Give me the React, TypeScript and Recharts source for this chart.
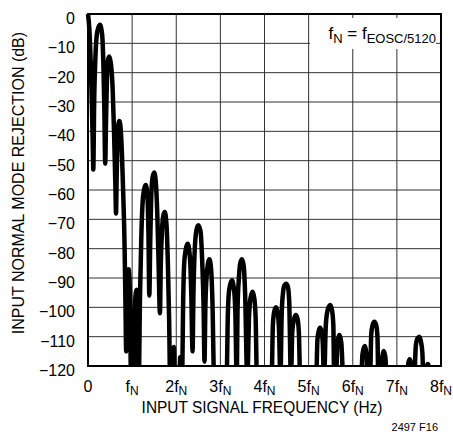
import { LineChart, Line, XAxis, YAxis, CartesianGrid, ReferenceArea } from "recharts";

const FONT = "'Liberation Sans', Arial, sans-serif";

// frequency in units of fN, rejection in dB (values below -120 fall off the plot)
const lobesToFn: [number, number][] = [
  [0, 0], [0.03, -5], [0.06, -16], [0.09, -32], [0.11, -46], [0.12, -53],
  [0.14, -30], [0.17, -14], [0.21, -6], [0.27, -3.7], [0.32, -7], [0.35, -18], [0.37, -32], [0.39, -51],
  [0.41, -35], [0.43, -22], [0.45, -16], [0.48, -14.5], [0.52, -17], [0.56, -26], [0.59, -40], [0.62, -58], [0.635, -68],
  [0.65, -55], [0.67, -42], [0.69, -37.5], [0.71, -36.5], [0.74, -39], [0.77, -48], [0.8, -62], [0.83, -80], [0.85, -100], [0.865, -115],
  [0.88, -100], [0.92, -87], [0.95, -95], [0.975, -125],
];

const lobesTo2Fn: [number, number][] = [
  [1.03, -125], [1.06, -100], [1.1, -94], [1.13, -100], [1.15, -125],
  [1.18, -95], [1.21, -75], [1.25, -62], [1.31, -58.3], [1.35, -63], [1.37, -75], [1.39, -96],
  [1.41, -78], [1.43, -64], [1.46, -56], [1.5, -54], [1.54, -58], [1.57, -68], [1.6, -85], [1.63, -102],
  [1.65, -85], [1.68, -73], [1.71, -68.5], [1.74, -67.5], [1.78, -72], [1.81, -85], [1.84, -105], [1.86, -125],
];

const lobesTo3Fn: [number, number][] = [
  [1.92, -125], [1.945, -113.5], [1.97, -125], [2.07, -125], [2.09, -117], [2.11, -125],
  [2.13, -125], [2.16, -95], [2.19, -83], [2.26, -78.3], [2.31, -83], [2.34, -95], [2.37, -115],
  [2.39, -95], [2.42, -80], [2.46, -73.5], [2.5, -72], [2.55, -74], [2.59, -85], [2.62, -100], [2.64, -118.5],
  [2.66, -100], [2.69, -89], [2.72, -85], [2.75, -83.6], [2.79, -87], [2.82, -98], [2.86, -125],
];

const lobesTo4Fn: [number, number][] = [
  [3.14, -125], [3.17, -102], [3.2, -94], [3.26, -90.8], [3.31, -94], [3.34, -102], [3.37, -125],
  [3.39, -100], [3.42, -90], [3.45, -85], [3.49, -83.6], [3.53, -86], [3.56, -95], [3.61, -125],
  [3.65, -103], [3.68, -97], [3.73, -94.7], [3.77, -97], [3.8, -104], [3.83, -125],
];

const lobesTo5Fn: [number, number][] = [
  [4.16, -125], [4.19, -106], [4.22, -101.5], [4.26, -100], [4.3, -102], [4.33, -108], [4.36, -125],
  [4.39, -102], [4.42, -95], [4.45, -92.5], [4.49, -92], [4.53, -93], [4.56, -98], [4.6, -125],
  [4.63, -108], [4.67, -104], [4.71, -102.6], [4.75, -104], [4.78, -109], [4.81, -125],
];

const lobesTo6Fn: [number, number][] = [
  [5.17, -125], [5.2, -111], [5.23, -108], [5.26, -107], [5.29, -108], [5.32, -112], [5.35, -125],
  [5.39, -106], [5.43, -101], [5.49, -99.2], [5.53, -101], [5.56, -106], [5.58, -125],
  [5.62, -125], [5.65, -113], [5.7, -109.4], [5.74, -112], [5.79, -125],
];

const lobesTo7Fn: [number, number][] = [
  [6.19, -125], [6.22, -116], [6.27, -113.2], [6.31, -116], [6.34, -125],
  [6.39, -125], [6.42, -109], [6.45, -106], [6.49, -104.9], [6.53, -106], [6.56, -110], [6.58, -125],
  [6.64, -125], [6.67, -117], [6.7, -114.9], [6.74, -117], [6.77, -125],
];

const lobesTo8Fn: [number, number][] = [
  [7.23, -125], [7.26, -119], [7.29, -117.7], [7.32, -119], [7.35, -125],
  [7.39, -125], [7.43, -113], [7.47, -110.5], [7.51, -110], [7.55, -112], [7.58, -116], [7.6, -125],
  [7.64, -125], [7.67, -120.5], [7.7, -119.3], [7.73, -120.5], [7.76, -125], [8, -125],
];

const xTicks = [0, 1, 2, 3, 4, 5, 6, 7, 8];
const xTickLabels = ["0", "f", "2f", "3f", "4f", "5f", "6f", "7f", "8f"];
const yTicks = [0, -10, -20, -30, -40, -50, -60, -70, -80, -90, -100, -110, -120];

const data = [
  ...lobesToFn, ...lobesTo2Fn, ...lobesTo3Fn, ...lobesTo4Fn,
  ...lobesTo5Fn, ...lobesTo6Fn, ...lobesTo7Fn, ...lobesTo8Fn,
].map(([f, db]) => ({ f, db }));

const XTick = ({ x, payload }: any) => {
  const main = xTickLabels[payload.value];
  return (
    <text x={x} y={392} textAnchor="middle" fontFamily={FONT} fontSize={16} fill="#000">
      {main}
      {payload.value > 0 && <tspan fontSize={12} dy={3}>N</tspan>}
    </text>
  );
};

const YTick = ({ y, payload }: any) => (
  <text x={75} y={y + 10} textAnchor="end" fontFamily={FONT} fontSize={16} fill="#000">
    {payload.value < 0 ? `\u2212${-payload.value}` : payload.value}
  </text>
);

const sub = { fontSize: 13, verticalAlign: -4 };

export default function App() {
  return (
    <div style={{ position: "absolute", left: 0, top: 0, width: 453, height: 436, background: "#fff" }}>
      <LineChart width={453} height={436} data={data} margin={{ top: 14, right: 12, bottom: 0, left: 0 }}>
        <CartesianGrid stroke="#333" strokeWidth={1} />
        <XAxis
          type="number"
          dataKey="f"
          domain={[0, 8]}
          ticks={xTicks}
          height={70}
          axisLine={false}
          tickLine={false}
          tick={<XTick />}
          interval={0}
        />
        <YAxis
          type="number"
          domain={[-120, 0]}
          ticks={yTicks}
          width={88}
          allowDataOverflow
          axisLine={false}
          tickLine={false}
          tick={<YTick />}
          interval={0}
        />
        <ReferenceArea x1={0} x2={8} y1={-120} y2={0} fill="none" stroke="#000" strokeWidth={2} ifOverflow="visible" />
        <Line
          type="monotone"
          dataKey="db"
          stroke="#000"
          strokeWidth={4.5}
          strokeLinejoin="round"
          dot={false}
          isAnimationActive={false}
        />
      </LineChart>
      <div
        style={{
          position: "absolute", left: 310, top: 18, width: 126, height: 31, background: "#fff",
          fontFamily: FONT, fontSize: 17, lineHeight: "31px", textAlign: "right", color: "#000",
        }}
      >
        f<sub style={sub}>N</sub> = f<sub style={sub}>EOSC/5120</sub>
      </div>
      <div
        style={{
          position: "absolute", left: 19, top: 183, transform: "translate(-50%, -50%) rotate(-90deg)",
          whiteSpace: "nowrap", fontFamily: FONT, fontSize: 16, color: "#000",
        }}
      >
        INPUT NORMAL MODE REJECTION (dB)
      </div>
      <div
        style={{
          position: "absolute", left: 262, top: 408, transform: "translate(-50%, -50%) scaleX(0.965)",
          whiteSpace: "nowrap", fontFamily: FONT, fontSize: 16, color: "#000",
        }}
      >
        INPUT SIGNAL FREQUENCY (Hz)
      </div>
      <div
        style={{
          position: "absolute", right: 15, top: 427, transform: "translateY(-50%)",
          whiteSpace: "nowrap", fontFamily: FONT, fontSize: 11, color: "#000",
        }}
      >
        2497 F16
      </div>
    </div>
  );
}
